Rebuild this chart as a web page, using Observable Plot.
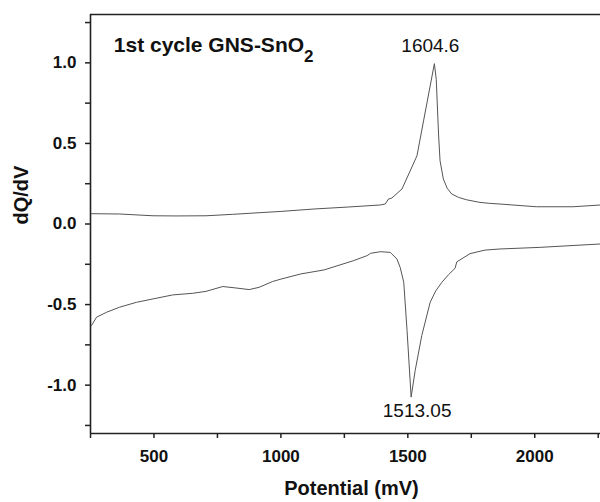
<!DOCTYPE html>
<html>
<head>
<meta charset="utf-8">
<script src="https://cdn.jsdelivr.net/npm/d3@7"></script>
<script src="https://cdn.jsdelivr.net/npm/@observablehq/plot@0.6"></script>
<style>
  html, body { margin: 0; padding: 0; background: #fff; }
</style>
</head>
<body>
<div id="chart"></div>
<script>
// ---- data ----
const chargeX = [254, 365, 496, 587, 705, 810, 914, 1000, 1130, 1261, 1392, 1411, 1424, 1437, 1477, 1536, 1562, 1604.6, 1612, 1621, 1627, 1640, 1655, 1673, 1700, 1732, 1784, 1823, 1863, 2006, 2150, 2259];
const chargeY = [0.064, 0.062, 0.051, 0.050, 0.051, 0.060, 0.070, 0.078, 0.093, 0.105, 0.118, 0.124, 0.155, 0.161, 0.217, 0.423, 0.640, 0.995, 0.898, 0.558, 0.392, 0.279, 0.222, 0.186, 0.165, 0.150, 0.134, 0.128, 0.124, 0.107, 0.107, 0.118];

const dischargeX = [254, 274, 313, 365, 431, 496, 574, 653, 705, 771, 823, 875, 914, 967, 1000, 1078, 1170, 1287, 1340, 1353, 1392, 1431, 1457, 1470, 1484, 1497, 1513.05, 1529, 1555, 1588, 1610, 1634, 1660, 1686, 1693, 1745, 1804, 1863, 2020, 2259];
const dischargeY = [-0.630, -0.578, -0.548, -0.516, -0.486, -0.465, -0.440, -0.430, -0.418, -0.388, -0.397, -0.407, -0.393, -0.357, -0.342, -0.310, -0.285, -0.227, -0.196, -0.182, -0.172, -0.176, -0.217, -0.270, -0.362, -0.661, -1.074, -0.909, -0.692, -0.486, -0.415, -0.362, -0.315, -0.275, -0.235, -0.184, -0.162, -0.155, -0.145, -0.124];

const xDomain = [250, 2259];
const yDomain = [-1.3, 1.3];
const xTicks = [250, 500, 750, 1000, 1250, 1500, 1750, 2000, 2250];
const xMajor = [500, 1000, 1500, 2000];
const yTicks = [-1.25, -1.0, -0.75, -0.5, -0.25, 0.0, 0.25, 0.5, 0.75, 1.0, 1.25];
const yMajor = [-1.0, -0.5, 0.0, 0.5, 1.0];

const titleText = "1st cycle GNS-SnO";
const titleSub = "2";
const xLabel = "Potential (mV)";
const yLabel = "dQ/dV";

// ---- build ----
const charge = chargeX.map((x, i) => ({x, y: chargeY[i]}));
const discharge = dischargeX.map((x, i) => ({x, y: dischargeY[i]}));
const peak = charge[d3.maxIndex(charge, d => d.y)];
const trough = discharge[d3.minIndex(discharge, d => d.y)];

const FONT = "Arial, 'Liberation Sans', Helvetica, sans-serif";
const AX = "#222";

const chart = Plot.plot({
  width: 600,
  height: 502,
  marginLeft: 90,
  marginRight: 0,
  marginTop: 14,
  marginBottom: 69,
  style: {fontFamily: FONT, background: "#fff", color: "#111", overflow: "visible"},
  x: {domain: xDomain},
  y: {domain: yDomain},
  marks: [
    Plot.axisY({
      ticks: yTicks, tickSize: 5, tickPadding: 9, label: null,
      tickFormat: d => yMajor.includes(d) ? d.toFixed(1) : "",
      fontSize: 17, fontWeight: "bold", stroke: AX, strokeWidth: 1.5, fill: "#111"
    }),
    Plot.axisX({
      ticks: xTicks, tickSize: 5, tickPadding: 11, label: null,
      tickFormat: d => xMajor.includes(d) ? String(d) : "",
      fontSize: 17, fontWeight: "bold", stroke: AX, strokeWidth: 1.5, fill: "#111"
    }),
    Plot.ruleY([yDomain[1]], {stroke: AX, strokeWidth: 1.6}),
    Plot.ruleY([yDomain[0]], {stroke: AX, strokeWidth: 1.6}),
    Plot.ruleX([xDomain[0]], {stroke: AX, strokeWidth: 1.6}),
    Plot.line(charge, {x: "x", y: "y", stroke: "#555", strokeWidth: 1}),
    Plot.line(discharge, {x: "x", y: "y", stroke: "#555", strokeWidth: 1}),
    Plot.text([peak], {x: "x", y: "y", text: d => String(d.x), dx: -4, dy: -25, lineAnchor: "top", fontSize: 19, fill: "#111"}),
    Plot.text([trough], {x: "x", y: "y", text: d => String(d.x), dx: 6, dy: 6.7, lineAnchor: "top", fontSize: 19, fill: "#111"}),
    Plot.text([titleText], {frameAnchor: "top-left", text: d => d, dx: 23.3, dy: 22.5, lineAnchor: "top", textAnchor: "start", fontSize: 21, fontWeight: "bold", fill: "#111", className: "ttl"}),
    Plot.text([xLabel], {frameAnchor: "bottom", text: d => d, dx: 6, dy: 47.7, lineAnchor: "top", fontSize: 20, fontWeight: "bold", fill: "#111"}),
    Plot.text([yLabel], {frameAnchor: "left", text: d => d, rotate: -90, dx: -77, dy: 0.5, lineAnchor: "top", fontSize: 20, fontWeight: "bold", fill: "#111"})
  ]
});

// subscript for the title
const t = chart.querySelector(".ttl text");
if (t) {
  const ts = document.createElementNS("http://www.w3.org/2000/svg", "tspan");
  ts.setAttribute("dy", "10");
  ts.setAttribute("font-size", "17");
  ts.textContent = titleSub;
  t.appendChild(ts);
}

document.getElementById("chart").appendChild(chart);
</script>
</body>
</html>
